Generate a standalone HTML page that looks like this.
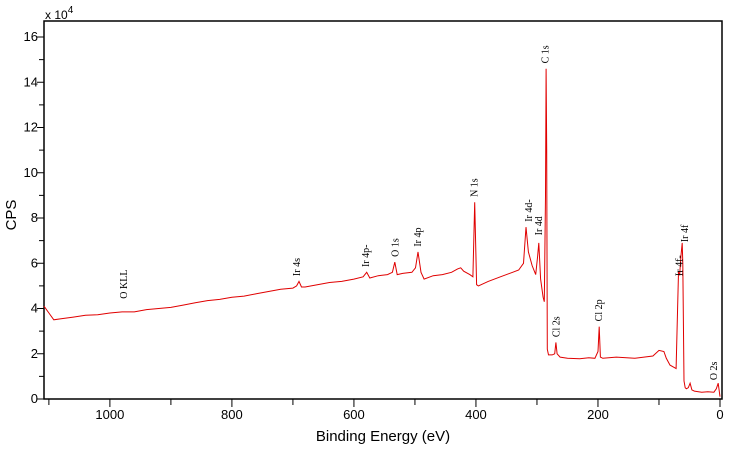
<!DOCTYPE html>
<html><head><meta charset="utf-8"><style>
body{margin:0;background:#fff;}
svg{display:block;}
</style></head><body>
<svg id="chart" width="731" height="450" xmlns="http://www.w3.org/2000/svg">
<g id="axes"></g>
<g id="series"></g>
<g id="labels"></g>
</svg>
<script>
// Binding energy (eV) and intensity (x10^4 CPS)
const energies = [1108,1100,1092,1080,1060,1040,1020,1000,980,960,940,920,900,880,860,840,820,800,780,760,740,720,700,694,690,686,680,660,640,620,600,585,579,574,560,545,537,533,529,520,505,499,495,490,485,470,455,440,430,425,420,410,405,402,399,396,380,360,340,330,322,318,314,308,302,299,297,294,290,288,286,285,284,283,281,275,271,269,267,262,250,230,215,205,200,198,196,192,170,140,110,100,92,88,82,72,68,66,64,62,61,59,57,55,52,49,46,42,30,20,10,6,3,1,0];
const intensities = [4.1,3.8,3.5,3.55,3.62,3.7,3.72,3.8,3.85,3.85,3.95,4.0,4.05,4.15,4.25,4.35,4.4,4.5,4.55,4.65,4.75,4.85,4.9,5.0,5.2,4.95,4.95,5.05,5.15,5.2,5.3,5.4,5.6,5.35,5.45,5.5,5.6,6.05,5.5,5.55,5.6,5.8,6.5,5.6,5.3,5.45,5.5,5.6,5.75,5.8,5.65,5.5,5.4,8.7,5.05,5.0,5.2,5.4,5.6,5.7,6.0,7.6,6.5,5.9,5.5,6.3,6.9,5.3,4.5,4.3,9.0,14.6,11.0,2.2,1.95,1.95,2.0,2.5,2.0,1.85,1.8,1.78,1.82,1.8,2.1,3.2,1.85,1.8,1.85,1.8,1.9,2.15,2.1,1.8,1.5,1.35,5.6,5.5,6.3,6.9,6.0,0.8,0.5,0.45,0.5,0.7,0.4,0.35,0.3,0.32,0.3,0.45,0.7,0.3,0.1];
const xTicks = [1000,800,600,400,200,0];
const yTicks = [0,2,4,6,8,10,12,14,16];
const peakNames = ["O KLL","Ir 4s","Ir 4p-","O 1s","Ir 4p","N 1s","Ir 4d-","Ir 4d","C 1s","Cl 2s","Cl 2p","Ir 4f-","Ir 4f","O 2s"];
const peakEnergies = [977,693,580,532,495,402,313,297,286,268,198,66,57,10];
const peakLabelY = [4.3,5.3,5.7,6.15,6.6,8.8,7.7,7.1,14.7,2.6,3.3,5.3,6.8,0.7];

const L=44,R=722,T=21,B=399;
const xMax=1108,xMin=-3.3;
const X=e=>L+(xMax-e)/(xMax-xMin)*(R-L);
const Y=v=>B-v*(B-37)/16;
const NS="http://www.w3.org/2000/svg";
function mk(tag,attrs,parent){const el=document.createElementNS(NS,tag);for(const k in attrs)el.setAttribute(k,attrs[k]);parent.appendChild(el);return el;}
const ax=document.getElementById('axes');
const frame=mk('rect',{x:L,y:T,width:R-L,height:B-T,fill:'none',stroke:'#000','stroke-width':1.5},ax);


const F='"Liberation Sans",Arial,sans-serif';
for(let e=1100;e>=0;e-=100){const x=X(e);const major=e%200===0;
 const t=mk('line',{x1:x,x2:x,y1:B,y2:B+(major?8:6),stroke:'#000','stroke-width':1},ax);
 
 }
xTicks.forEach(e=>{const t=mk('text',{x:X(e),y:B+20,'text-anchor':'middle','font-family':F,'font-size':13},ax);t.textContent=e;
 
 });
for(let v=0;v<=17;v+=1){const y=Y(v);if(y<T)break;
 const t=mk('line',{x1:L-(v%2===0?7:5),x2:L,y1:y,y2:y,stroke:'#000','stroke-width':1},ax);
 
 }
yTicks.forEach(v=>{const t=mk('text',{x:L-6,y:Y(v)+4,'text-anchor':'end','font-family':F,'font-size':13},ax);t.textContent=v;
 
 });
const xt=mk('text',{x:383,y:441,'text-anchor':'middle','font-family':F,'font-size':15},ax);xt.textContent='Binding Energy (eV)';


const yt=mk('text',{x:16,y:215,'text-anchor':'middle','font-family':F,'font-size':15,transform:'rotate(-90 16 215)'},ax);yt.textContent='CPS';


const sc=mk('text',{x:45,y:19,'font-family':F,'font-size':12},ax);sc.innerHTML='x 10<tspan dy="-6" font-size="10">4</tspan>';


const pts=energies.map((e,i)=>X(e).toFixed(1)+','+Y(intensities[i]).toFixed(1)).join(' ');
const line=mk('polyline',{points:pts,fill:'none',stroke:'#e00000','stroke-width':1},document.getElementById('series'));


const lg=document.getElementById('labels');
peakNames.forEach((n,i)=>{const x=X(peakEnergies[i])+3,y=Y(peakLabelY[i])-3;
 const t=mk('text',{x:x,y:y,'font-family':'"Liberation Serif",serif','font-size':10,transform:`rotate(-90 ${x} ${y})`},lg);t.textContent=n;
 
 });
</script>
</body></html>
